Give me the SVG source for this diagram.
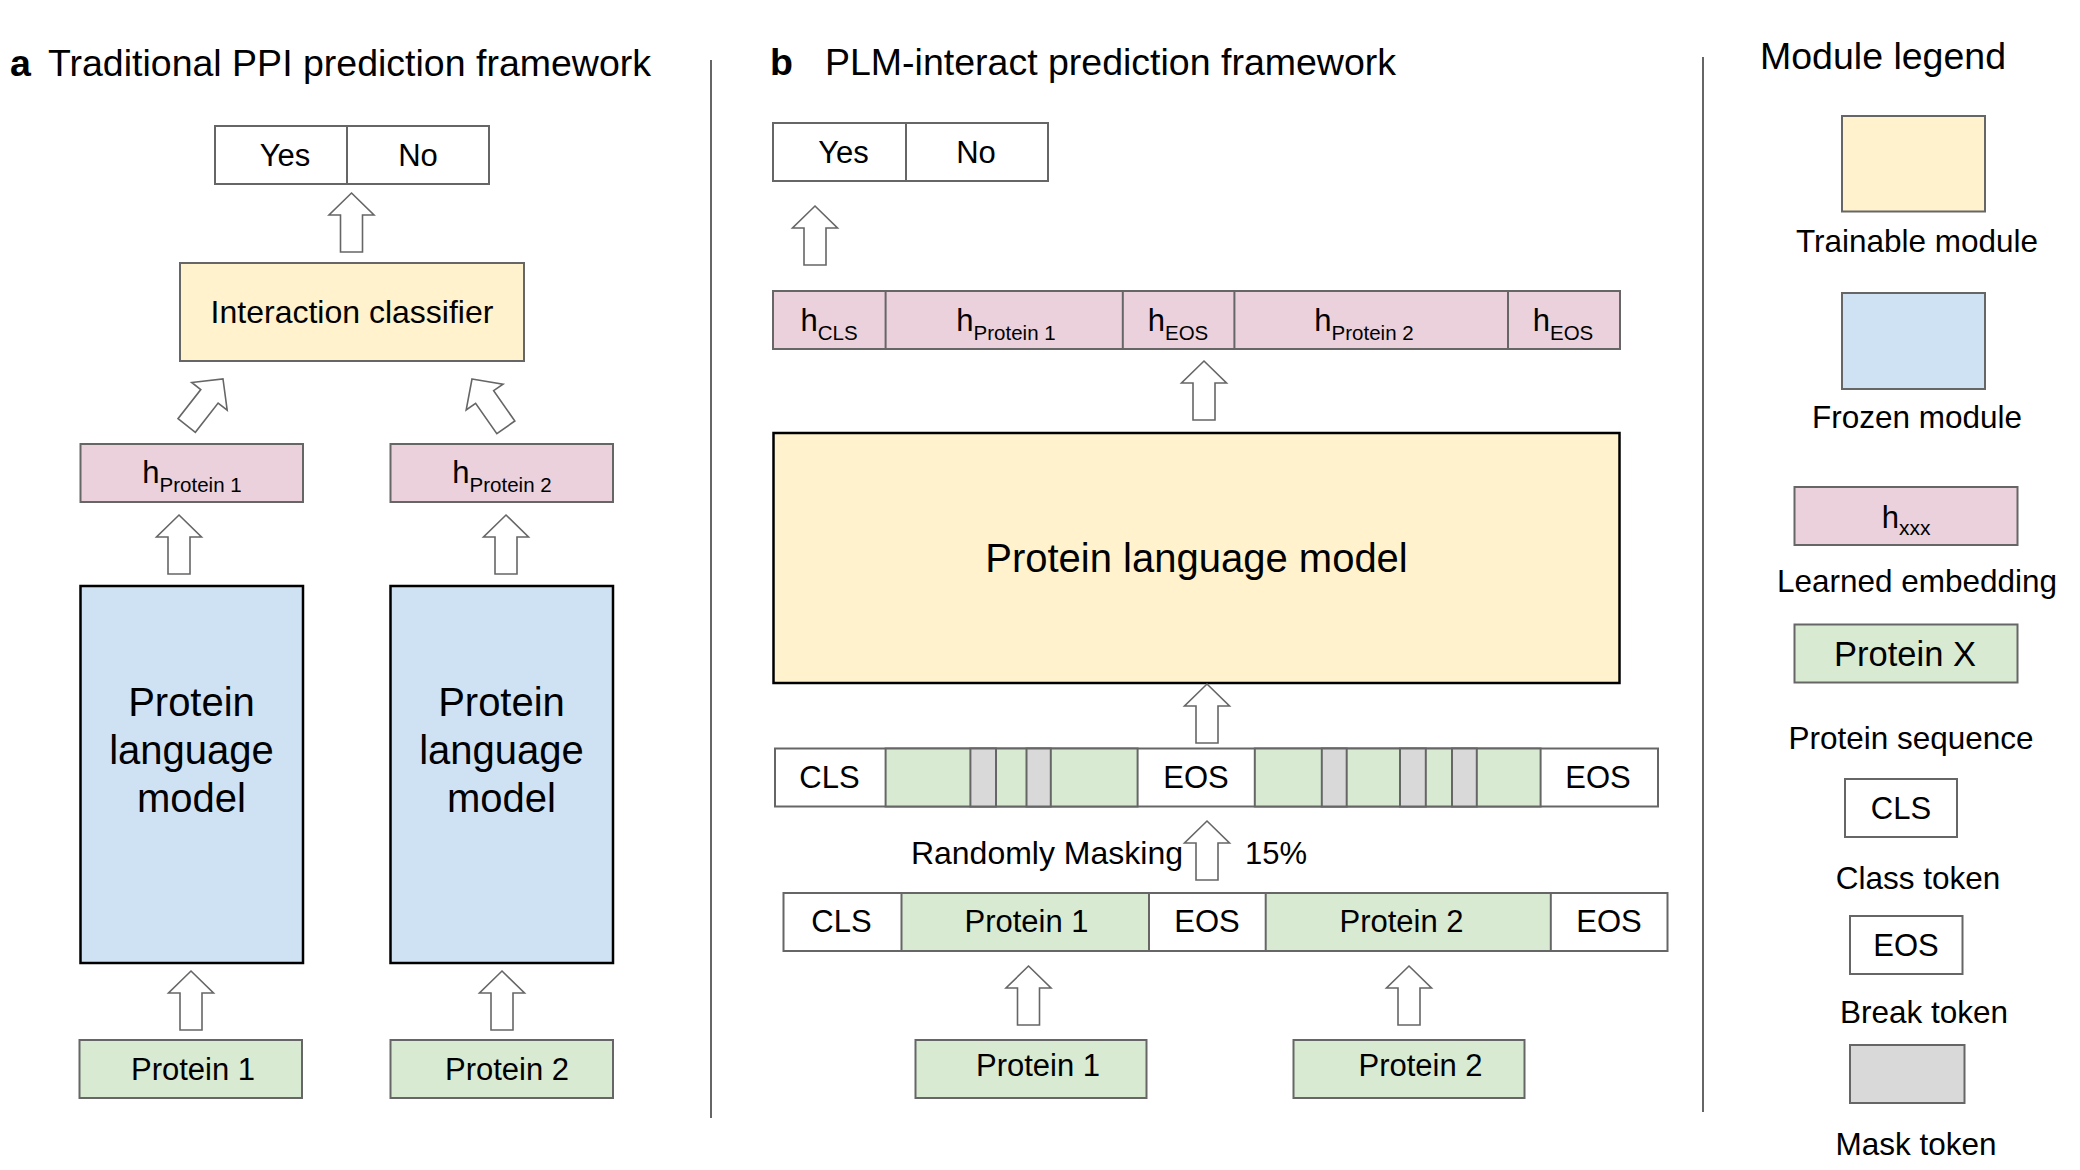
<svg xmlns="http://www.w3.org/2000/svg" xmlns:xlink="http://www.w3.org/1999/xlink" width="2080" height="1170" viewBox="0 0 2080 1170">
<style>
text{font-family:"Liberation Sans",Arial,sans-serif;fill:#000}
.t31{font-size:31px}
.t40{font-size:40px}
.title{font-size:37.5px}
.bold{font-weight:bold}
.mid{text-anchor:middle}
.box{stroke:#666;stroke-width:2}
.plm{stroke:#000;stroke-width:2.5}
.white{fill:#fff}
.yellow{fill:#fff2cc}
.blue{fill:#cfe2f3}
.pink{fill:#ead1dc}
.green{fill:#d9ead3}
.grey{fill:#d9d9d9}
.sep{stroke:#666;stroke-width:2;fill:none}
.arrow{fill:#fff;stroke:#666;stroke-width:1.6;stroke-linejoin:miter}
.sub{font-size:20.5px}
</style>
<defs>
<path id="arr" d="M0,0 L22.5,22 L11,22 L11,59 L-11,59 L-11,22 L-22.5,22 Z"/>
</defs>
<rect width="2080" height="1170" fill="#fff"/>

<!-- dividers -->
<g id="dividers">
<line class="sep" x1="711" y1="60" x2="711" y2="1118"/>
<line class="sep" x1="1703" y1="57" x2="1703" y2="1112"/>
</g>

<!-- Panel a -->
<g id="title-a">
<text x="10" y="76" class="title bold">a</text>
<text x="48" y="76" class="title">Traditional PPI prediction framework</text>
</g>
<g id="a-yesno">
<rect x="215" y="126" width="274" height="58" class="box white"/>
<line x1="347" y1="126" x2="347" y2="184" class="box"/>
<text x="285" y="166" class="t31 mid">Yes</text>
<text x="418" y="166" class="t31 mid">No</text>
</g>
<g id="a-classifier">
<rect x="180" y="263" width="344" height="98" class="box yellow"/>
<text x="352" y="323" class="mid" style="font-size:32px">Interaction classifier</text>
</g>
<g id="a-h1">
<rect x="80.5" y="444" width="222.5" height="58" class="box pink"/>
<text x="192" y="483" class="mid"><tspan font-size="31">h</tspan><tspan class="sub" dy="9">Protein 1</tspan></text>
</g>
<g id="a-h2">
<rect x="390.5" y="444" width="222.5" height="58" class="box pink"/>
<text x="502" y="483" class="mid"><tspan font-size="31">h</tspan><tspan class="sub" dy="9">Protein 2</tspan></text>
</g>
<g id="a-plm1">
<rect x="80.5" y="586" width="222.5" height="377" class="plm blue"/>
<text x="191.5" y="716" class="t40 mid">Protein</text>
<text x="191.5" y="764" class="t40 mid">language</text>
<text x="191.5" y="812" class="t40 mid">model</text>
</g>
<g id="a-plm2">
<rect x="390.5" y="586" width="222.5" height="377" class="plm blue"/>
<text x="501.5" y="716" class="t40 mid">Protein</text>
<text x="501.5" y="764" class="t40 mid">language</text>
<text x="501.5" y="812" class="t40 mid">model</text>
</g>
<g id="a-p1">
<rect x="79.5" y="1040" width="222.5" height="58" class="box green"/>
<text x="193" y="1080" class="t31 mid">Protein 1</text>
</g>
<g id="a-p2">
<rect x="390.5" y="1040" width="222.5" height="58" class="box green"/>
<text x="507" y="1080" class="t31 mid">Protein 2</text>
</g>

<!-- Panel b -->
<g id="title-b">
<text x="770" y="75" class="title bold">b</text>
<text x="825" y="75" class="title">PLM-interact prediction framework</text>
</g>
<g id="b-yesno">
<rect x="773" y="123" width="275" height="58" class="box white"/>
<line x1="906" y1="123" x2="906" y2="181" class="box"/>
<text x="843.5" y="163" class="t31 mid">Yes</text>
<text x="976" y="163" class="t31 mid">No</text>
</g>
<g id="b-hrow">
<rect x="773" y="291" width="847" height="58" class="box pink"/>
<line x1="885.6" y1="291" x2="885.6" y2="349" class="box"/>
<line x1="1122.8" y1="291" x2="1122.8" y2="349" class="box"/>
<line x1="1234.4" y1="291" x2="1234.4" y2="349" class="box"/>
<line x1="1508" y1="291" x2="1508" y2="349" class="box"/>
<text x="829" y="331" class="mid"><tspan font-size="31">h</tspan><tspan class="sub" dy="9">CLS</tspan></text>
<text x="1006" y="331" class="mid"><tspan font-size="31">h</tspan><tspan class="sub" dy="9">Protein 1</tspan></text>
<text x="1178" y="331" class="mid"><tspan font-size="31">h</tspan><tspan class="sub" dy="9">EOS</tspan></text>
<text x="1364" y="331" class="mid"><tspan font-size="31">h</tspan><tspan class="sub" dy="9">Protein 2</tspan></text>
<text x="1563" y="331" class="mid"><tspan font-size="31">h</tspan><tspan class="sub" dy="9">EOS</tspan></text>
</g>
<g id="b-plm">
<rect x="773.5" y="433" width="846" height="250" class="plm yellow"/>
<text x="1196.5" y="572" class="t40 mid">Protein language model</text>
</g>
<g id="b-masked">
<rect x="775" y="748.5" width="883" height="58" class="box white"/>
<rect x="885.6" y="748.5" width="252" height="58" class="box green"/>
<rect x="970.4" y="748.5" width="25.6" height="58" class="box grey"/>
<rect x="1026.5" y="748.5" width="24.3" height="58" class="box grey"/>
<rect x="1254.8" y="748.5" width="285.8" height="58" class="box green"/>
<rect x="1321.8" y="748.5" width="24.9" height="58" class="box grey"/>
<rect x="1400" y="748.5" width="25.8" height="58" class="box grey"/>
<rect x="1452" y="748.5" width="24.8" height="58" class="box grey"/>
<text x="829.5" y="788" class="t31 mid">CLS</text>
<text x="1196" y="788" class="t31 mid">EOS</text>
<text x="1598" y="788" class="t31 mid">EOS</text>
</g>
<g id="b-masklabel">
<text x="1183" y="864" text-anchor="end" style="font-size:32px">Randomly Masking</text>
<text x="1245" y="864" class="t31">15%</text>
</g>
<g id="b-seqrow">
<rect x="783.5" y="893" width="884" height="58" class="box white"/>
<rect x="901.5" y="893" width="247.5" height="58" class="box green"/>
<rect x="1265.7" y="893" width="285.1" height="58" class="box green"/>
<text x="841.5" y="932" class="t31 mid">CLS</text>
<text x="1026.5" y="932" class="t31 mid">Protein 1</text>
<text x="1207" y="932" class="t31 mid">EOS</text>
<text x="1401.5" y="932" class="t31 mid">Protein 2</text>
<text x="1609" y="932" class="t31 mid">EOS</text>
</g>
<g id="b-p1">
<rect x="915.5" y="1040" width="231" height="58" class="box green"/>
<text x="1038" y="1076" class="t31 mid">Protein 1</text>
</g>
<g id="b-p2">
<rect x="1293.5" y="1040" width="231" height="58" class="box green"/>
<text x="1420.5" y="1076" class="t31 mid">Protein 2</text>
</g>

<!-- connectors -->
<g id="connectors">
<use xlink:href="#arr" href="#arr" class="arrow" transform="translate(351.5,193)"/>
<use xlink:href="#arr" href="#arr" class="arrow" transform="translate(223,379) rotate(38)"/>
<use xlink:href="#arr" href="#arr" class="arrow" transform="translate(472,379) rotate(-35)"/>
<use xlink:href="#arr" href="#arr" class="arrow" transform="translate(179,515)"/>
<use xlink:href="#arr" href="#arr" class="arrow" transform="translate(506,515)"/>
<use xlink:href="#arr" href="#arr" class="arrow" transform="translate(191,971)"/>
<use xlink:href="#arr" href="#arr" class="arrow" transform="translate(502,971)"/>
<use xlink:href="#arr" href="#arr" class="arrow" transform="translate(815,206)"/>
<use xlink:href="#arr" href="#arr" class="arrow" transform="translate(1204,361)"/>
<use xlink:href="#arr" href="#arr" class="arrow" transform="translate(1207,684)"/>
<use xlink:href="#arr" href="#arr" class="arrow" transform="translate(1207,821)"/>
<use xlink:href="#arr" href="#arr" class="arrow" transform="translate(1028.5,966)"/>
<use xlink:href="#arr" href="#arr" class="arrow" transform="translate(1409,966)"/>
</g>

<!-- Legend -->
<g id="legend-title">
<text x="1760" y="69" class="title">Module legend</text>
</g>
<g id="legend-trainable">
<rect x="1842" y="116" width="143" height="95.5" class="box yellow"/>
<text x="1917" y="252" class="mid" style="font-size:31.5px">Trainable module</text>
</g>
<g id="legend-frozen">
<rect x="1842" y="293" width="143" height="96" class="box blue"/>
<text x="1917" y="428" class="mid" style="font-size:31.5px">Frozen module</text>
</g>
<g id="legend-embedding">
<rect x="1794.5" y="487" width="223" height="58" class="box pink"/>
<text x="1906" y="528" class="mid"><tspan font-size="31">h</tspan><tspan font-size="21" dy="7">xxx</tspan></text>
<text x="1917" y="592" class="mid" style="font-size:31.5px">Learned embedding</text>
</g>
<g id="legend-protein">
<rect x="1794.5" y="624.5" width="223" height="58" class="box green"/>
<text x="1905" y="666" class="mid" style="font-size:34.5px">Protein X</text>
<text x="1911" y="749" class="mid" style="font-size:31.5px">Protein sequence</text>
</g>
<g id="legend-cls">
<rect x="1845" y="779" width="112" height="58" class="box white"/>
<text x="1901" y="819" class="t31 mid">CLS</text>
<text x="1918" y="889" class="mid" style="font-size:31.5px">Class token</text>
</g>
<g id="legend-eos">
<rect x="1850" y="916" width="112.5" height="58" class="box white"/>
<text x="1906" y="956" class="t31 mid">EOS</text>
<text x="1924" y="1023" class="mid" style="font-size:31.5px">Break token</text>
</g>
<g id="legend-mask">
<rect x="1850" y="1045" width="114.5" height="58" class="box grey"/>
<text x="1916" y="1155" class="mid" style="font-size:31.5px">Mask token</text>
</g>
</svg>
